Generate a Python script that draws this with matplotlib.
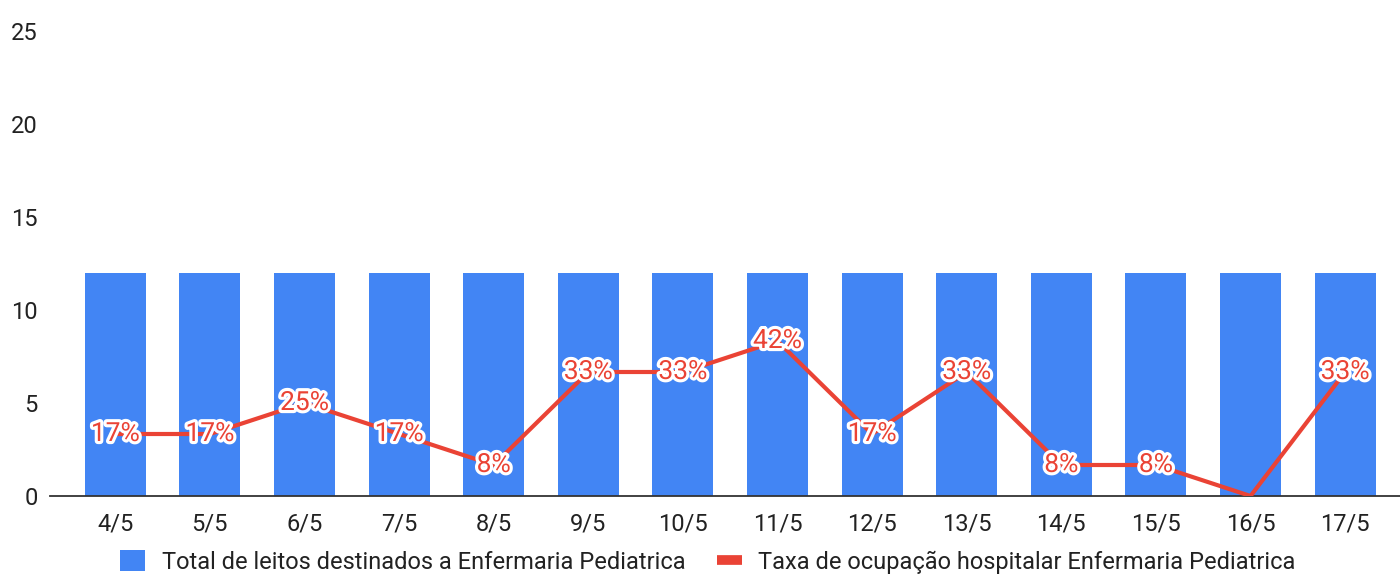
import matplotlib
matplotlib.use("Agg")
import matplotlib.pyplot as plt
import matplotlib.patheffects as pe
from matplotlib.lines import Line2D
from matplotlib.patches import Patch
import numpy as np

plt.rcParams['font.family'] = ['Roboto', 'DejaVu Sans']

dias = ['4/5', '5/5', '6/5', '7/5', '8/5', '9/5', '10/5', '11/5', '12/5', '13/5', '14/5', '15/5', '16/5', '17/5']
leitos = [12, 12, 12, 12, 12, 12, 12, 12, 12, 12, 12, 12, 12, 12]
ocupados = [2, 2, 3, 2, 1, 4, 4, 5, 2, 4, 1, 1, 0, 4]  # leitos ocupados -> taxa = ocupados/leitos
taxa = [o / l for o, l in zip(ocupados, leitos)]

azul = '#4285f4'
vermelho = '#ea4335'

fig = plt.figure(figsize=(14, 5.74), dpi=100)
ax = fig.add_axes([50/1400, 1 - 496/574, 1 - 50/1400, (496 - 31)/574])
x = np.arange(len(dias))
ax.bar(x, leitos, width=0.645, color=azul, zorder=2)
ax.set_ylim(0, 25)
ax.set_xlim(-0.69, 13.58)
ax.set_yticks([0, 5, 10, 15, 20, 25])
ax.set_xticks(x)
ax.set_xticklabels(dias)
ax.tick_params(axis='both', length=0, labelsize=17, colors='#222222')
ax.tick_params(axis='y', pad=9)
ax.tick_params(axis='x', pad=12)
for s in ['top', 'right', 'left']:
    ax.spines[s].set_visible(False)
ax.spines['bottom'].set_color('#333333')
ax.spines['bottom'].set_linewidth(1.3)
ax.spines['bottom'].set_zorder(5)

ax2 = ax.twinx()
ax2.set_ylim(0, 1.25)
ax2.axis('off')
ax2.plot(x, taxa, color=vermelho, lw=3, zorder=3)
for xi, t in zip(x, taxa):
    if t == 0:
        continue
    ax2.text(xi, t, '{:.0f}%'.format(t * 100), ha='center', va='center', fontsize=19,
             color=vermelho, zorder=4,
             path_effects=[pe.withStroke(linewidth=4.5, foreground='white')])

handles = [Patch(facecolor=azul, edgecolor='none'),
           Line2D([0], [0], color=vermelho, lw=7, solid_capstyle='butt')]
labels = ['Total de leitos destinados a Enfermaria Pediatrica', 'Taxa de ocupação hospitalar Enfermaria Pediatrica']
fig.legend(handles, labels, loc='center', bbox_to_anchor=(0.5 + 8/1400, 1 - 562/574), ncol=2, frameon=False,
           fontsize=17, handlelength=1.05, handleheight=1.0, columnspacing=1.33, handletextpad=0.7,
           labelcolor='#222222')

fig.savefig('out.png', dpi=100)
